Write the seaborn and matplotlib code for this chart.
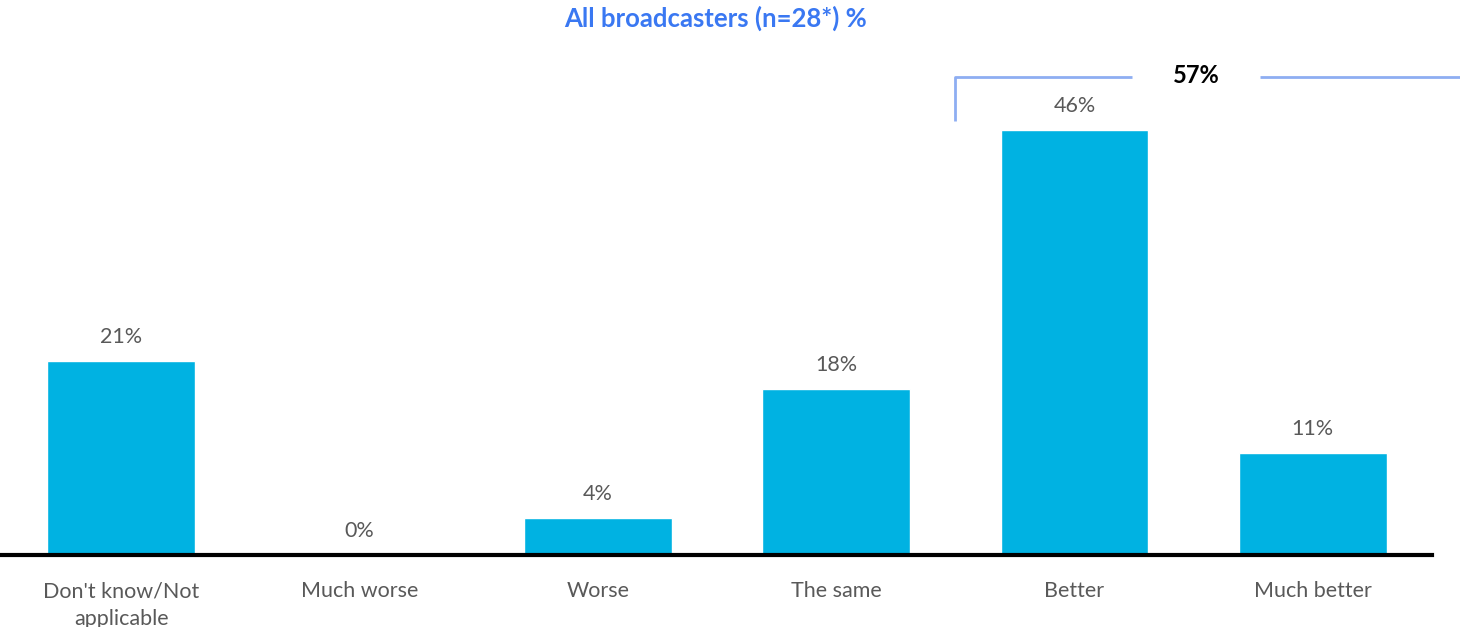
import matplotlib
matplotlib.use("Agg")
import matplotlib.pyplot as plt
import seaborn as sns
import pandas as pd

categories = ["Don't know/Not\napplicable", "Much worse", "Worse", "The same", "Better", "Much better"]
values = [21, 0, 4, 18, 46, 11]
net_better_label = "57%"
title = "All broadcasters (n=28*) %"

sns.set_theme(style="white")
plt.rcParams["font.family"] = ["Lato", "DejaVu Sans"]

bar_color = "#00b2e2"
text_grey = "#595959"
bracket_color = "#8eaef2"

df = pd.DataFrame({"category": categories, "value": values})

fig = plt.figure(figsize=(14.6, 6.27), dpi=100)
px_per_pct = 9.24
ax_bottom_px = 72
ylim_top = 55
ax_h_px = ylim_top * px_per_pct
ax = fig.add_axes([2 / 1460, ax_bottom_px / 627, 1430 / 1460, ax_h_px / 627])

sns.barplot(data=df, x="category", y="value", color=bar_color, width=0.62,
            saturation=1, ax=ax)
ax.set_xlim(-0.5, 5.5)
ax.set_ylim(0, ylim_top)

for i, v in enumerate(values):
    ax.annotate(f"{v}%", (i, v), xytext=(0, 10), textcoords="offset points",
                ha="center", va="bottom", fontsize=15.5, color=text_grey)

ax.set_xlabel("")
ax.set_ylabel("")
ax.set_yticks([])
ax.tick_params(axis="x", length=0, pad=19, labelsize=15.5, labelcolor=text_grey)
for lbl in ax.get_xticklabels():
    lbl.set_linespacing(1.45)
    lbl.set_va("top")
for side in ["top", "right", "left"]:
    ax.spines[side].set_visible(False)
ax.spines["bottom"].set_color("black")
ax.spines["bottom"].set_linewidth(3)

# bracket over "Better" + "Much better"
y_top = 51.7
y_low = 47.0
ax.plot([3.5, 3.5, 4.24], [y_low, y_top, y_top], color=bracket_color, lw=2,
        clip_on=False, solid_capstyle="butt")
ax.plot([4.78, 5.62], [y_top, y_top], color=bracket_color, lw=2,
        clip_on=False, solid_capstyle="butt")
ax.text(4.51, y_top + 0.2, net_better_label, ha="center", va="center", fontsize=17,
        fontweight="bold", color="black")

fig.text(0.49, 1 - 18 / 627, title, ha="center", va="center", fontsize=18.5,
         fontweight="bold", color="#3a78f2")

fig.savefig("out.png", dpi=100)
